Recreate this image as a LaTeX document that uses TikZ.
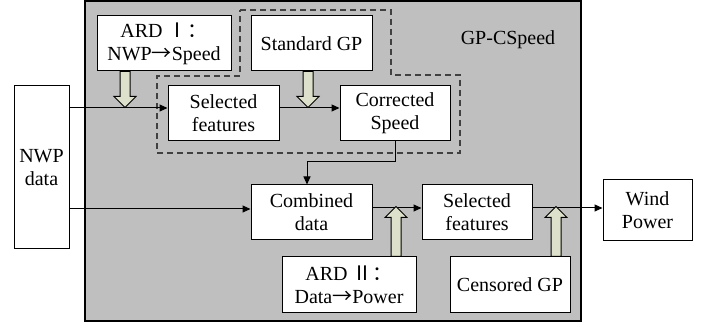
\documentclass[tikz,border=0pt]{standalone}
\usepackage{fontspec}
\setmainfont{Liberation Serif}
\newfontfamily\cjk{Noto Sans CJK SC}
\usetikzlibrary{arrows.meta}
\definecolor{panelgray}{RGB}{191,191,191}
\definecolor{fatgreen}{RGB}{221,225,203}
\tikzset{
  box/.style={shape=rectangle, draw, fill=white, line width=1pt, align=center, inner sep=2pt},
  fatarrow/.style={draw, fill=fatgreen, line width=1pt, line join=miter},
}
\begin{document}
\begin{tikzpicture}[x=1pt, y=-1pt, >={Triangle[length=8pt,width=7pt]},
    every node/.style={font=\fontsize{20}{23}\selectfont}]
            \useasboundingbox (0,0) rectangle (709,328);
            % Panel
            \draw[fill=panelgray, line width=1.2pt] (85,1) rectangle (581,321);
            \draw[dashed, dash pattern=on 6pt off 4pt, line width=1.1pt, black!75]
              (240,10) -- (391,10) -- (391,75) -- (460,75) -- (460,153)
              -- (157,153) -- (157,76) -- (240,76) -- cycle;
            \node (cspeed) at (508,40) {GP-CSpeed};
            % Nodes
            \node[box, minimum width=55pt, minimum height=163pt] (nwp) at (41.5,167.5) {NWP\\data};
            \node[box, minimum width=134pt, minimum height=55pt] (ardone) at (164,43.5) {ARD {\cjk Ⅰ：}\\NWP{\cjk →}Speed};
            \node[box, minimum width=121pt, minimum height=55pt] (stdgp) at (311.5,43.5) {Standard GP};
            \node[box, minimum width=111pt, minimum height=55pt] (selone) at (223.5,113.5) {Selected\\features};
            \node[box, minimum width=110pt, minimum height=55pt] (corr) at (395,113.5) {Corrected\\Speed};
            \node[box, minimum width=121pt, minimum height=55pt] (comb) at (311.5,212.5) {Combined\\data};
            \node[box, minimum width=110pt, minimum height=55pt] (seltwo) at (477,212.5) {Selected\\features};
            \node[box, minimum width=89pt, minimum height=61pt] (wind) at (647.5,210.5) {Wind\\Power};
            \node[box, minimum width=134pt, minimum height=56pt] (ardtwo) at (349,285) {ARD {\cjk Ⅱ：}\\Data{\cjk →}Power};
            \node[box, minimum width=120pt, minimum height=56pt] (cens) at (510,285) {Censored GP};
            % Edges
            \draw[->, line width=1pt] (nwp.east |- 0,108) -- (selone.west |- 0,108);
            \draw[->, line width=1pt] (selone.east |- 0,108) -- (corr.west |- 0,108);
            \draw[->, line width=1pt] (corr.south) -- ++(0,20) -| ([xshift=-4.5pt]comb.north);
            \draw[->, line width=1pt] (nwp.east |- 0,209) -- (comb.west |- 0,209);
            \draw[->, line width=1pt] (comb.east |- 0,208) -- (seltwo.west |- 0,208);
            \draw[->, line width=1pt] (seltwo.east |- 0,208) -- (wind.west |- 0,208);
            % Fat arrows
            \draw[fatarrow] (ardone.south -| 120,0) -- ++(0,25) -- ++(-6,0) -- ++(11,11)
              -- ++(11,-11) -- ++(-6,0) -- ++(0,-25) -- cycle;
            \draw[fatarrow] (stdgp.south -| 303,0) -- ++(0,25) -- ++(-6,0) -- ++(11,11)
              -- ++(11,-11) -- ++(-6,0) -- ++(0,-25) -- cycle;
            \draw[fatarrow] (ardtwo.north -| 391,0) -- ++(0,-39) -- ++(-6,0) -- ++(11,-11)
              -- ++(11,11) -- ++(-6,0) -- ++(0,39) -- cycle;
            \draw[fatarrow] (cens.north -| 551,0) -- ++(0,-39) -- ++(-6,0) -- ++(11,-11)
              -- ++(11,11) -- ++(-6,0) -- ++(0,39) -- cycle;
        \end{tikzpicture}
\end{document}
